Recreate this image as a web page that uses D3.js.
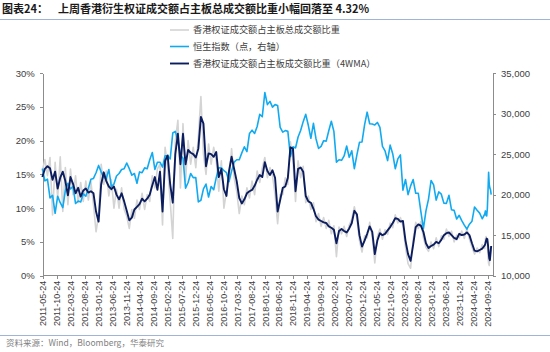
<!DOCTYPE html>
<html>
<head>
<meta charset="utf-8">
<script src="https://cdn.jsdelivr.net/npm/d3@7/dist/d3.min.js"></script>
<style>
  body { margin: 0; background: #fff; }
  svg { font-family: "Liberation Sans", Arial, "Noto Sans CJK SC", sans-serif; }
  .axis text { font-size: 9.5px; fill: #404040; }
  .axis path, .axis line { stroke: #8c8c8c; shape-rendering: crispEdges; }
  .xaxis text { font-size: 9px; }
  .cjk { font-family: "Noto Sans CJK SC", sans-serif; }
</style>
</head>
<body>
<svg id="chart" width="550" height="352"></svg>
<script>
// weekly series sampled every 4 weeks from 2011-05-20, then weekly at the end
const gridStart = "2011-05-20";
const gridStepDays = 28;
const gridCount = 174;
const tailDates = ["2024-08-30", "2024-09-06", "2024-09-13", "2024-09-20", "2024-09-27",
  "2024-10-04", "2024-10-11", "2024-10-18", "2024-10-25", "2024-11-01"];

// 香港权证成交额占主板总成交额比重 (%)
const shareWeekly = [
  15.5, 17.2, 14.8, 17.5, 9.0, 16.8, 11.5, 17.6, 9.5, 16.0, 10.5, 15.8, 12.0,
  14.8, 10.8, 13.8, 11.0, 14.0, 11.2, 13.9, 10.5, 6.5, 9.0, 16.5, 13.5, 15.5,
  11.8, 14.2, 10.0, 12.8, 10.0, 13.0, 9.8, 8.8, 7.0, 9.8, 8.5, 11.2, 9.8,
  12.2, 9.8, 12.0, 11.0, 14.8, 13.0, 15.8, 16.5, 7.5, 19.0, 16.0, 11.0, 5.5,
  20.0, 23.0, 13.0, 22.5, 14.0, 20.0, 16.5, 19.0, 16.0, 20.5, 26.5, 18.0, 15.0,
  19.5, 16.5, 19.0, 17.0, 12.5, 17.0, 10.0, 12.5, 14.0, 18.8, 14.5, 12.5, 9.2,
  11.8, 10.5, 13.0, 11.5, 14.0, 12.0, 15.5, 13.8, 16.0, 17.5, 14.5, 16.0, 14.8,
  12.0, 7.7, 12.0, 12.0, 14.5, 13.5, 19.8, 17.0, 11.0, 17.0, 14.5, 16.2, 10.8,
  11.8, 9.8, 10.8, 8.0, 9.2, 7.3, 8.6, 7.0, 8.2, 6.2, 7.4, 2.8, 7.2,
  6.2, 7.3, 5.8, 7.5, 8.4, 10.2, 8.4, 5.2, 3.5, 5.9, 5.6, 7.9, 5.8,
  1.9, 5.8, 6.9, 5.4, 6.8, 6.1, 7.8, 7.1, 9.0, 7.8, 8.6, 7.4, 4.2,
  1.8, 1.1, 5.4, 7.9, 7.0, 8.0, 5.6, 4.2, 3.6, 5.0, 4.0, 5.6, 4.3,
  5.9, 5.4, 6.9, 5.8, 6.6, 5.0, 6.0, 5.6, 6.6, 5.5, 7.0, 5.4, 4.2,
  3.2, 4.1, 3.4, 4.6, 4.0,
  5.5, 5.8, 5.2, 5.0, 2.9, 1.8, 1.5, 2.8, 3.8, 4.32
];

// 恒生指数 (点)
const hsi = [
  23200, 21700, 21900, 19600, 19900, 17700, 19800, 19000, 18400, 20500, 21400, 20700, 21000,
  18900, 19200, 19100, 20100, 19800, 20800, 21900, 22000, 22700, 23600, 22800, 22100, 22000,
  23100, 21000, 21300, 22300, 22600, 23100, 23200, 23900, 23200, 22400, 22600, 21400, 22800,
  22700, 23300, 23200, 24300, 25200, 23100, 24000, 24000, 23400, 24800, 24800, 24400, 27600,
  27800, 26700, 24900, 24500, 20800, 21500, 22600, 22100, 22100, 19100, 19300, 20700, 21300,
  19700, 21000, 20600, 22100, 23300, 23300, 22950, 22700, 21600, 22900, 24000, 24300, 24300,
  25150, 25900, 25300, 27550, 27950, 27550, 28400, 29900, 29600, 32600, 31100, 31500, 30800,
  31100, 31000, 28300, 27700, 27900, 27800, 24700, 25900, 25750, 27100, 27900, 29000, 29900,
  28550, 26950, 28800, 26900, 25700, 25950, 26650, 26600, 27870, 29050, 27800, 24000, 24300,
  24230, 24770, 26000, 24600, 25400, 23200, 24900, 26450, 26500, 28600, 30170, 28740, 28700,
  28600, 28900, 28300, 25960, 25400, 24200, 26100, 25050, 23200, 24400, 24900, 20550, 21870,
  20000, 21080, 21860, 20160, 20170, 17930, 15800, 17990, 19450, 21740, 21190, 19320, 20330,
  20050, 18950, 18920, 19920, 18130, 18060, 16990, 17450, 16790, 16240, 15750, 16350, 16720,
  18480, 18080, 17720, 17020, 17610,
  17990, 17440, 17370, 18260, 20360, 22740, 21250, 20800, 20590, 20000
];

// 香港权证成交额占主板成交额比重 4WMA (%)
const share4wma = [
  14.6, 15.8, 16.2, 15.9, 14.2, 15.4, 12.9, 14.5, 15.4, 14.0, 11.9, 14.6, 13.6,
  12.2, 13.0, 11.7, 12.6, 12.9, 12.3, 12.5, 12.2, 9.5, 8.0, 13.5, 15.3, 14.0,
  13.2, 12.8, 13.2, 12.0, 11.3, 12.2, 11.0, 9.6, 8.2, 8.6, 9.8, 10.2, 10.6,
  11.4, 11.0, 11.4, 12.0, 13.4, 14.6, 12.7, 15.4, 9.5, 17.0, 17.8, 13.5, 10.8,
  18.0, 21.0, 16.5, 21.0, 16.5, 18.6, 18.2, 18.0, 17.5, 18.8, 23.5, 22.5, 16.2,
  18.1, 18.0, 17.6, 18.3, 14.6, 15.8, 12.8, 11.8, 15.5, 17.6, 15.8, 14.0, 11.5,
  10.7, 11.3, 12.2, 12.5, 12.7, 13.3, 14.2, 14.9, 14.6, 16.8, 15.5, 14.9, 15.6,
  14.5, 9.5, 11.2, 13.0, 13.2, 14.5, 19.0, 18.8, 12.5, 15.8, 16.0, 15.4, 11.8,
  11.0, 10.8, 9.9, 8.8, 8.3, 8.1, 7.9, 7.8, 7.3, 7.1, 6.8, 4.8, 6.6,
  6.9, 6.6, 6.4, 7.0, 7.8, 9.6, 9.1, 6.0, 4.3, 5.2, 6.2, 7.3, 6.5,
  3.2, 5.2, 6.3, 6.0, 6.2, 6.7, 7.2, 7.8, 8.5, 8.4, 8.0, 8.1, 5.2,
  3.2, 2.2, 4.6, 7.2, 7.6, 7.4, 6.5, 4.8, 4.1, 4.4, 4.6, 5.0, 4.8,
  5.3, 6.0, 6.3, 6.4, 6.0, 5.6, 5.4, 6.2, 6.0, 6.1, 6.4, 6.0, 4.8,
  3.7, 3.6, 3.8, 4.0, 4.5,
  4.8, 5.2, 5.5, 5.4, 4.6, 3.5, 2.6, 2.3, 3.3, 4.4
];

const xTickLabels = [
  "2011-05-24", "2011-10-24", "2012-03-24", "2012-08-24", "2013-01-24", "2013-06-24",
  "2013-11-24", "2014-04-24", "2014-09-24", "2015-02-24", "2015-07-24", "2015-12-24",
  "2016-05-24", "2016-10-24", "2017-03-24", "2017-08-24", "2018-01-24", "2018-06-24",
  "2018-11-24", "2019-04-24", "2019-09-24", "2020-02-24", "2020-07-24", "2020-12-24",
  "2021-05-24", "2021-10-24", "2022-03-24", "2022-08-24", "2023-01-24", "2023-06-24",
  "2023-11-24", "2024-04-24", "2024-09-24"
];
const leftTicks = [0, 5, 10, 15, 20, 25, 30];
const rightTicks = [10000, 15000, 20000, 25000, 30000, 35000];

const legendItems = [
  { name: "香港权证成交额占主板总成交额比重", color: "#d4d4d4", w: 1.6 },
  { name: "恒生指数（点，右轴）", color: "#11aaf0", w: 1.6 },
  { name: "香港权证成交额占主板成交额比重（4WMA）", color: "#0b1d5e", w: 1.9 }
];

const parse = d3.utcParse("%Y-%m-%d");
const start = parse(gridStart);
const dates = d3.range(gridCount).map(i => d3.utcDay.offset(start, i * gridStepDays))
  .concat(tailDates.map(parse));

const svg = d3.select("#chart");
const plot = { left: 42.7, right: 493, top: 73, bottom: 275.7 };

const x = d3.scaleUtc()
  .domain([parse("2011-05-24"), parse("2024-09-24")])
  .range([42.7, 487.7]);
const yL = d3.scaleLinear().domain([0, 30]).range([plot.bottom, plot.top]);
const yR = d3.scaleLinear().domain([10000, 35000]).range([plot.bottom, plot.top]);

// title
svg.append("text")
  .attr("class", "cjk")
  .attr("x", 2).attr("y", 13)
  .attr("font-size", 11).attr("font-weight", "bold").attr("fill", "#1a1a1a")
  .text("图表24：");
svg.append("text")
  .attr("class", "cjk")
  .attr("x", 58).attr("y", 13)
  .attr("font-size", 11).attr("font-weight", "bold").attr("fill", "#1a1a1a")
  .text("上周香港衍生权证成交额占主板总成交额比重小幅回落至 4.32%");
svg.append("line")
  .attr("x1", 0).attr("x2", 550).attr("y1", 19.5).attr("y2", 19.5)
  .attr("stroke", "#9fb4d8").attr("stroke-width", 1);

// axes
const xAxis = d3.axisBottom(x)
  .tickValues(xTickLabels.map(parse))
  .tickFormat(d3.utcFormat("%Y-%m-%d"))
  .tickSize(3).tickSizeOuter(0);
const gx = svg.append("g")
  .attr("class", "axis xaxis")
  .attr("transform", `translate(0,${plot.bottom})`)
  .call(xAxis);
gx.select(".domain").attr("d", `M${plot.left},0H${plot.right}`);
gx.selectAll("text")
  .attr("transform", "rotate(-90)")
  .attr("text-anchor", "end")
  .attr("x", -5).attr("y", 0).attr("dy", "0.32em");

svg.append("g")
  .attr("class", "axis")
  .attr("transform", `translate(${plot.left},0)`)
  .call(d3.axisLeft(yL).tickValues(leftTicks).tickFormat(d => d + "%").tickSize(3).tickSizeOuter(0).tickPadding(5));

svg.append("g")
  .attr("class", "axis")
  .attr("transform", `translate(${plot.right},0)`)
  .call(d3.axisRight(yR).tickValues(rightTicks).tickFormat(d3.format(",")).tickSize(3).tickSizeOuter(0).tickPadding(5));

// lines
const lineL = d3.line().x((d, i) => x(dates[i])).y(d => yL(d));
const lineR = d3.line().x((d, i) => x(dates[i])).y(d => yR(d));

svg.append("path").datum(shareWeekly)
  .attr("d", lineL).attr("fill", "none")
  .attr("stroke", legendItems[0].color).attr("stroke-width", legendItems[0].w)
  .attr("stroke-linejoin", "round");
svg.append("path").datum(hsi)
  .attr("d", lineR).attr("fill", "none")
  .attr("stroke", legendItems[1].color).attr("stroke-width", legendItems[1].w)
  .attr("stroke-linejoin", "round");
svg.append("path").datum(share4wma)
  .attr("d", lineL).attr("fill", "none")
  .attr("stroke", legendItems[2].color).attr("stroke-width", legendItems[2].w)
  .attr("stroke-linejoin", "round");

// legend
const lg = svg.append("g").attr("transform", "translate(170,30)");
const rows = lg.selectAll("g").data(legendItems).enter().append("g")
  .attr("transform", (d, i) => `translate(0,${[0, 16.5, 33.5][i]})`);
rows.append("line")
  .attr("x1", 0).attr("x2", 19)
  .attr("stroke", d => d.color).attr("stroke-width", d => d.w);
rows.append("text")
  .attr("class", "cjk")
  .attr("x", 23).attr("dy", "0.35em")
  .attr("font-size", 9.2).attr("fill", "#404040")
  .text(d => d.name);

// source
svg.append("line")
  .attr("x1", 0).attr("x2", 550).attr("y1", 335.5).attr("y2", 335.5)
  .attr("stroke", "#9fb4d8").attr("stroke-width", 1);
svg.append("text")
  .attr("class", "cjk")
  .attr("x", 6).attr("y", 346)
  .attr("font-size", 8.5).attr("fill", "#7f7f7f")
  .text("资料来源：Wind，Bloomberg，华泰研究");
</script>
</body>
</html>
